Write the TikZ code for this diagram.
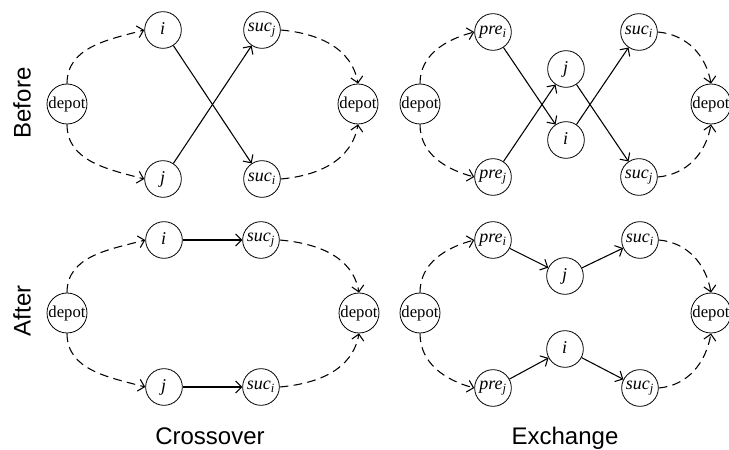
\documentclass[tikz,border=0pt]{standalone}
\usepackage{fontspec}
\setmainfont{Liberation Serif}
\newfontfamily\tagfont{Liberation Sans}
\usetikzlibrary{arrows.meta}
\newcommand{\ilab}[2]{{\fontsize{13.5}{15}\selectfont\textit{#1\textsubscript{#2}}}}
\tikzset{
  city/.style={circle, draw, line width=0.6pt, inner sep=0pt, minimum size=27.5pt,
    font=\fontsize{12.5}{14}\selectfont},
  route/.style={dash pattern=on 6.5pt off 4pt},
  tag/.style={font=\tagfont\fontsize{18}{20}\selectfont}
}
\begin{document}
\begin{tikzpicture}[x=0.75pt, y=0.75pt, line width=0.8pt,
    >={Straight Barb[length=4.5pt,width=9pt]}]
  \useasboundingbox (0,0) rectangle (729,450);
  % labels
  \node[tag, rotate=90] (before) at (22,347) {Before};
  \node[tag, rotate=90] (after) at (22,139) {After};
  \node[tag, anchor=base] (cross) at (210,5) {Crossover};
  \node[tag, anchor=base] (exch) at (565,5) {Exchange};
  % crossover, before
  \node[city] (d1) at (67,346) {depot};
  \node[city] (i1) at (163,420) {\ilab{i}{}};
  \node[city] (j1) at (163,271) {\ilab{j}{}};
  \node[city] (sj1) at (262,420) {\ilab{suc}{j}};
  \node[city] (si1) at (262,271) {\ilab{suc}{i}};
  \node[city] (e1) at (358,346) {depot};
  \draw[->] (i1) -- (si1);
  \draw[->] (j1) -- (sj1);
  % exchange, before
  \node[city] (d2) at (420,346) {depot};
  \node[city] (pi2) at (493,418) {\ilab{pre}{i}};
  \node[city] (pj2) at (493,273) {\ilab{pre}{j}};
  \node[city] (j2) at (566,381) {\ilab{j}{}};
  \node[city] (i2) at (566,310) {\ilab{i}{}};
  \node[city] (si2) at (639,418) {\ilab{suc}{i}};
  \node[city] (sj2) at (639,273) {\ilab{suc}{j}};
  \node[city] (e2) at (711,346) {depot};
  \draw[->] (pi2) -- (i2);
  \draw[->] (pj2) -- (j2);
  \draw[->] (j2) -- (sj2);
  \draw[->] (i2) -- (si2);
  % crossover, after
  \node[city] (d3) at (67,137) {depot};
  \node[city] (i3) at (164,210) {\ilab{i}{}};
  \node[city] (j3) at (164,63) {\ilab{j}{}};
  \node[city] (sj3) at (261,210) {\ilab{suc}{j}};
  \node[city] (si3) at (261,63) {\ilab{suc}{i}};
  \node[city] (e3) at (359,137) {depot};
  \draw[->] (i3) -- (sj3);
  \draw[->] (j3) -- (si3);
  % exchange, after
  \node[city] (d4) at (420,137) {depot};
  \node[city] (pi4) at (493,210) {\ilab{pre}{i}};
  \node[city] (pj4) at (493,62) {\ilab{pre}{j}};
  \node[city] (j4) at (565,174) {\ilab{j}{}};
  \node[city] (i4) at (565,101) {\ilab{i}{}};
  \node[city] (si4) at (640,210) {\ilab{suc}{i}};
  \node[city] (sj4) at (640,62) {\ilab{suc}{j}};
  \node[city] (e4) at (711,137) {depot};
  \draw[->] (pi4) -- (j4);
  \draw[->] (j4) -- (si4);
  \draw[->] (pj4) -- (i4);
  \draw[->] (i4) -- (sj4);
  % depot legs
  \foreach \d/\a/\b/\s/\t/\e in {d1/i1/j1/sj1/si1/e1, d2/pi2/pj2/si2/sj2/e2,
      d3/i3/j3/sj3/si3/e3, d4/pi4/pj4/si4/sj4/e4} {
    \draw[route, ->] (\d.north) to[out=90, in=195] (\a.west);
    \draw[route, ->] (\d.south) to[out=-90, in=165] (\b.west);
    \draw[route, ->] (\s.east) to[out=-5, in=100] (\e.north);
    \draw[route, ->] (\t.east) to[out=5, in=-100] (\e.south);
  }
\end{tikzpicture}
\end{document}
